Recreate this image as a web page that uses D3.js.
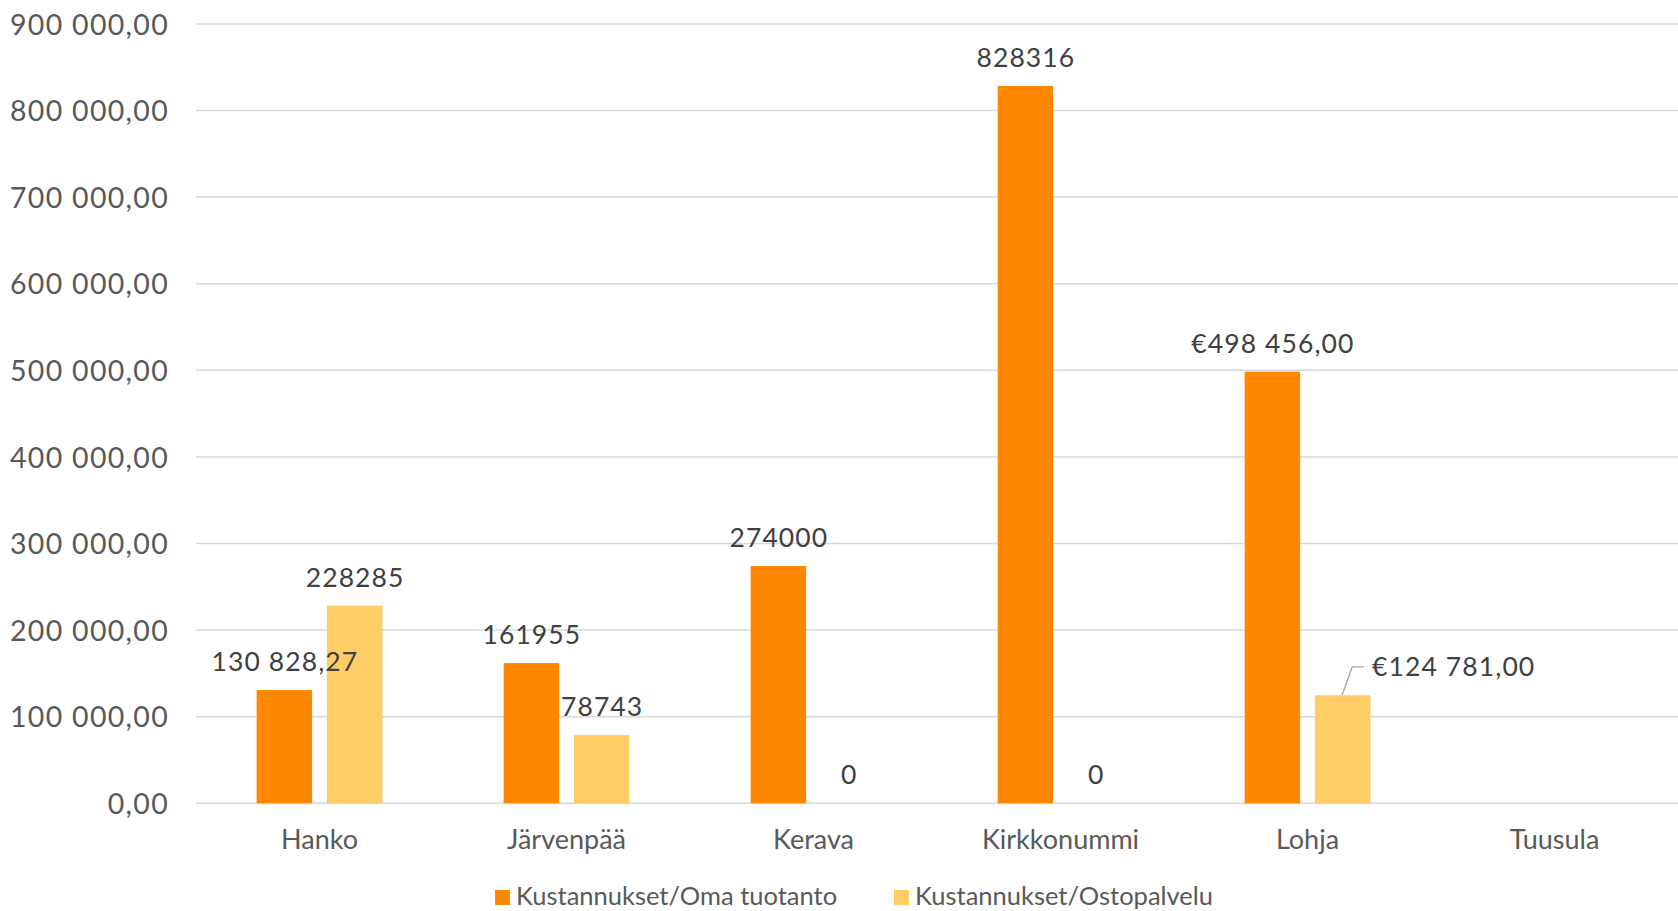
<!DOCTYPE html>
<html>
<head>
<meta charset="utf-8">
<script src="https://cdn.jsdelivr.net/npm/d3@7"></script>
<style>
  html, body { margin: 0; padding: 0; background: #fff; }
  svg { display: block; }
  text { font-family: Lato, "Noto Sans", sans-serif; }
</style>
</head>
<body>
<svg id="chart" width="1678" height="911"></svg>
<script>
const categories = ["Hanko", "Järvenpää", "Kerava", "Kirkkonummi", "Lohja", "Tuusula"];
const seriesNames = ["Kustannukset/Oma tuotanto", "Kustannukset/Ostopalvelu"];
const omaValues = [130828.27, 161955, 274000, 828316, 498456, null];
const ostoValues = [228285, 78743, 0, 0, 124781, null];
const omaLabels = ["130 828,27", "161955", "274000", "828316", "€498 456,00", null];
const ostoLabels = ["228285", "78743", "0", "0", "€124 781,00", null];
const yTicks = [0, 100000, 200000, 300000, 400000, 500000, 600000, 700000, 800000, 900000];
const colors = ["#FF8800", "#FFCC66"];

const svg = d3.select("#chart");
const margin = { left: 196, right: 0, top: 24, bottom: 108 };
const W = 1678, H = 911;
const plotBottom = 803.3;

const x0 = d3.scaleBand().domain(categories).range([margin.left, W - margin.right]).paddingInner(0).paddingOuter(0);
const groupW = x0.bandwidth() * 0.509;
const x1 = d3.scaleBand().domain([0, 1]).range([-groupW / 2, groupW / 2]).paddingInner(0.21).paddingOuter(0);
const y = d3.scaleLinear().domain([0, 900000]).range([plotBottom, 23.9]);

const fmtTick = v => d3.format(",.2f")(v).replace(/,/g, " ").replace(".", ",");

// gridlines
svg.append("g")
  .selectAll("line").data(yTicks).join("line")
  .attr("x1", margin.left).attr("x2", W)
  .attr("y1", d => y(d)).attr("y2", d => y(d))
  .attr("stroke", "#d9d9d9").attr("stroke-width", 1.5);

// y axis (labels only)
const yAxis = d3.axisLeft(y).tickValues(yTicks).tickFormat(fmtTick).tickSize(0).tickPadding(0);
const yg = svg.append("g").attr("transform", `translate(${margin.left - 27},0)`).call(yAxis);
yg.select(".domain").remove();
yg.selectAll("text").attr("fill", "#595959").style("font-size", "28.5px").style("letter-spacing", "1.3px").attr("dy", "0.36em");

// x axis labels
const xAxis = d3.axisBottom(x0).tickSize(0).tickPadding(0);
const xg = svg.append("g").attr("transform", `translate(0,${plotBottom})`).call(xAxis);
xg.select(".domain").remove();
xg.selectAll("text").attr("fill", "#595959").style("font-size", "27px").attr("dy", "0").attr("y", 46);

const series = [
  { values: omaValues, labels: omaLabels },
  { values: ostoValues, labels: ostoLabels }
];

series.forEach((s, si) => {
  const data = categories.map((c, i) => ({ c, v: s.values[i], l: s.labels[i] })).filter(d => d.v !== null);
  svg.append("g").selectAll("rect").data(data.filter(d => d.v > 0)).join("rect")
    .attr("x", d => x0(d.c) + x0.bandwidth() / 2 + x1(si))
    .attr("width", x1.bandwidth())
    .attr("y", d => y(d.v))
    .attr("height", d => y(0) - y(d.v))
    .attr("fill", colors[si]);
});

// data labels
series.forEach((s, si) => {
  const data = categories.map((c, i) => ({ c, v: s.values[i], l: s.labels[i] })).filter(d => d.v !== null);
  data.forEach(d => {
    const cx = x0(d.c) + x0.bandwidth() / 2 + x1(si) + x1.bandwidth() / 2;
    const by = y(d.v);
    if (d.c === "Lohja" && si === 1) {
      svg.append("polyline")
        .attr("points", `${cx - 0.5},${by} ${cx + 9.5},${by - 28.3} ${cx + 21},${by - 28.3}`)
        .attr("fill", "none").attr("stroke", "#a6a6a6").attr("stroke-width", 1.3);
      svg.append("text").attr("x", cx + 29.5).attr("y", by - 19)
        .attr("text-anchor", "start").attr("fill", "#404040").style("font-size", "26.5px").style("letter-spacing", "1.1px").text(d.l);
    } else {
      svg.append("text").attr("x", cx + 0.5).attr("y", by - 19)
        .attr("text-anchor", "middle").attr("fill", "#404040").style("font-size", "26.5px").style("letter-spacing", "1.1px").text(d.l);
    }
  });
});

// legend
const legendItems = [
  { name: seriesNames[0], color: colors[0], sx: 495 },
  { name: seriesNames[1], color: colors[1], sx: 894 }
];
const lg = svg.append("g");
legendItems.forEach(it => {
  lg.append("rect").attr("x", it.sx).attr("y", 890).attr("width", 15).attr("height", 15).attr("fill", it.color);
  lg.append("text").attr("x", it.sx + 21).attr("y", 905).attr("fill", "#595959").style("font-size", "25.5px").text(it.name);
});
</script>
</body>
</html>
